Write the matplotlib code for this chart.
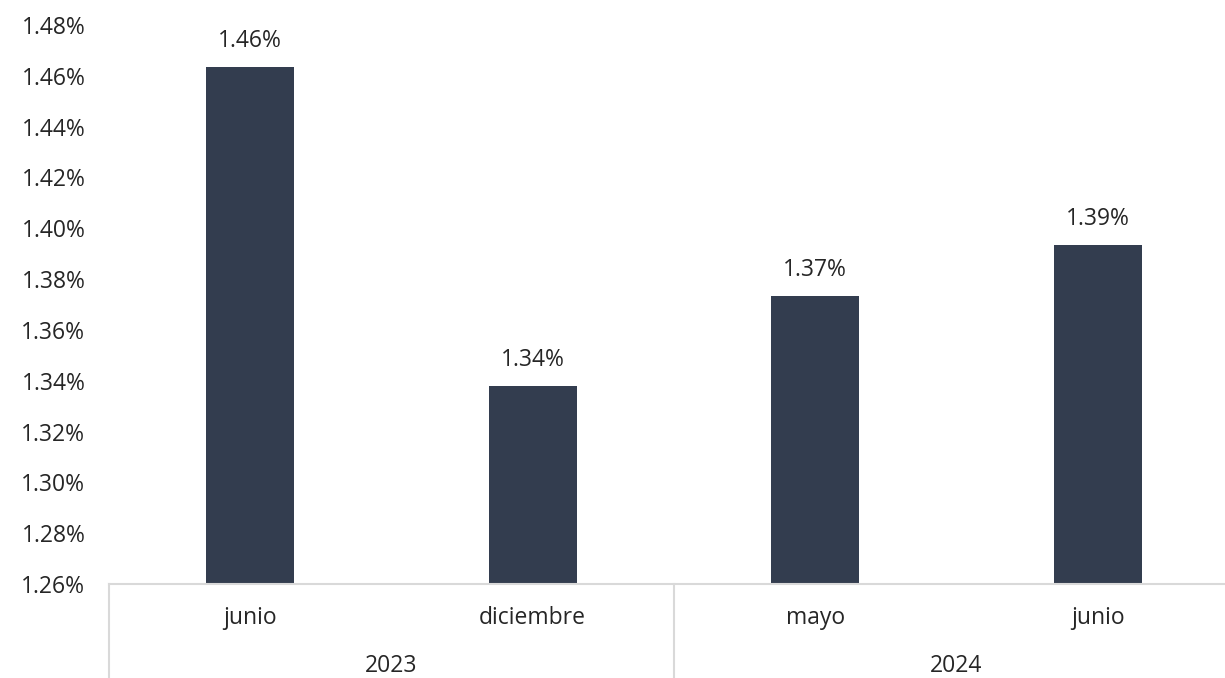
import matplotlib
matplotlib.use("Agg")
import matplotlib.pyplot as plt
import matplotlib.transforms as mtransforms

months = ["junio", "diciembre", "mayo", "junio"]
years = ["2023", "2024"]
year_groups = [[0, 1], [2, 3]]
values = [1.4635, 1.3378, 1.3734, 1.3935]
yticks = [1.26, 1.28, 1.30, 1.32, 1.34, 1.36, 1.38, 1.40, 1.42, 1.44, 1.46, 1.48]

plt.rcParams['font.family'] = ['Open Sans', 'DejaVu Sans']
text_color = "#262626"
bar_color = "#333D4F"
line_color = "#D9D9D9"
fs = 16.5

fig = plt.figure(figsize=(12.25, 6.78), dpi=100)
ax = fig.add_axes([109/1225, (678-584)/678, (1239-109)/1225, 559/678])

x = list(range(len(values)))
bars = ax.bar(x, values, width=0.31, color=bar_color, zorder=2)
ax.set_xlim(-0.5, len(values) - 0.5)
ax.set_ylim(yticks[0], yticks[-1])
ax.set_yticks(yticks)
ax.set_yticklabels([f"{t:.2f}%" for t in yticks], fontsize=fs, color=text_color)
ax.tick_params(axis='y', length=0, pad=17)
ax.set_xticks([])
for s in ["top", "right", "left"]:
    ax.spines[s].set_visible(False)
ax.spines["bottom"].set_color(line_color)
ax.spines["bottom"].set_linewidth(1.5)

for xi, v in zip(x, values):
    ax.annotate(f"{v:.2f}%", (xi, v), xytext=(0, 10), textcoords="offset points",
                ha="center", va="bottom", fontsize=fs, color=text_color)

trans = mtransforms.blended_transform_factory(ax.transData, ax.transAxes)
for xi, m in zip(x, months):
    ax.text(xi, -0.060, m, transform=trans, ha="center", va="center",
            fontsize=fs, color=text_color)
for grp, yr in zip(year_groups, years):
    cx = (grp[0] + grp[-1]) / 2
    ax.text(cx, -0.146, yr, transform=trans, ha="center", va="center",
            fontsize=fs, color=text_color)

for bx in [-0.5, 1.5]:
    ax.plot([bx, bx], [0, -0.3], transform=trans, color=line_color,
            lw=1.5, clip_on=False, zorder=1)

fig.savefig("out.png", dpi=100)
